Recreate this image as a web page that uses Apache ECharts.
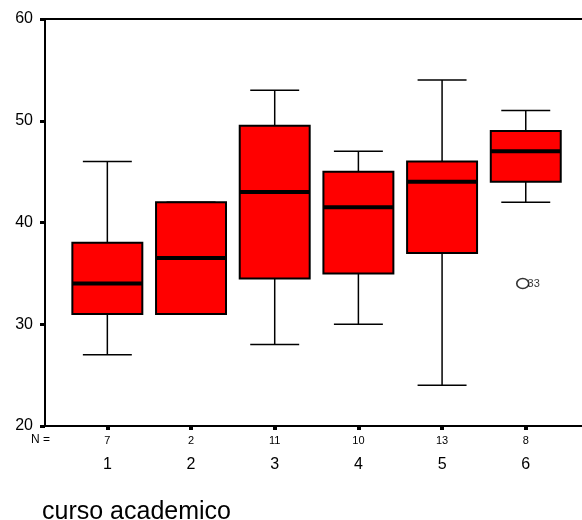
<!DOCTYPE html>
<html>
<head>
<meta charset="utf-8">
<script src="https://cdn.jsdelivr.net/npm/echarts@6/dist/echarts.min.js"></script>
<style>html,body{margin:0;padding:0;background:#fff;}#c{width:582px;height:520px;}</style>
</head>
<body>
<div id="c"></div>
<script>
// ---- data ----
const categories = ['1', '2', '3', '4', '5', '6'];
const counts = [7, 2, 11, 10, 13, 8];
const whiskerLow = [27, 31, 28, 30, 24, 42];
const q1 = [31, 31, 34.5, 35, 37, 44];
const median = [34, 36.5, 43, 41.5, 44, 47];
const q3 = [38, 42, 49.5, 45, 46, 49];
const whiskerHigh = [46, 42, 53, 47, 54, 51];
const outlierCategory = ['6'];
const outlierValue = [34];
const outlierLabel = ['33'];
const yTicks = [20, 30, 40, 50, 60];
const xTitle = 'curso academico';

const FONT = '"Liberation Sans", Arial, sans-serif';
const boxData = categories.map((c, i) => [i, whiskerLow[i], q1[i], median[i], q3[i], whiskerHigh[i]]);
const outData = outlierCategory.map((c, i) => ({ value: [categories.indexOf(c), outlierValue[i]], label: { formatter: outlierLabel[i] } }));

const chart = echarts.init(document.getElementById('c'), null, { renderer: 'canvas' });

function renderBox(params, api) {
  const idx = api.value(0);
  const band = api.size([1, 0])[0];
  const boxW = band * 0.836;
  const capW = band * 0.585;
  const pLow = api.coord([idx, api.value(1)]);
  const pQ1 = api.coord([idx, api.value(2)]);
  const pMed = api.coord([idx, api.value(3)]);
  const pQ3 = api.coord([idx, api.value(4)]);
  const pHigh = api.coord([idx, api.value(5)]);
  const cx = pMed[0];
  const ls = { stroke: '#000', lineWidth: 1.5 };
  return {
    type: 'group',
    children: [
      { type: 'line', shape: { x1: cx, y1: pHigh[1], x2: cx, y2: pQ3[1] }, style: ls },
      { type: 'line', shape: { x1: cx, y1: pQ1[1], x2: cx, y2: pLow[1] }, style: ls },
      { type: 'line', shape: { x1: cx - capW / 2, y1: pHigh[1], x2: cx + capW / 2, y2: pHigh[1] }, style: ls },
      { type: 'line', shape: { x1: cx - capW / 2, y1: pLow[1], x2: cx + capW / 2, y2: pLow[1] }, style: ls },
      { type: 'rect', shape: { x: cx - boxW / 2, y: pQ3[1], width: boxW, height: pQ1[1] - pQ3[1] },
        style: { fill: '#ff0000', stroke: '#000', lineWidth: 2 } },
      { type: 'line', shape: { x1: cx - boxW / 2, y1: pMed[1], x2: cx + boxW / 2, y2: pMed[1] },
        style: { stroke: '#000', lineWidth: 4 } }
    ]
  };
}

chart.setOption({
  animation: false,
  backgroundColor: '#fff',
  title: {
    text: xTitle, left: 42, top: 500, padding: 0,
    textStyle: { fontFamily: FONT, fontSize: 25, fontWeight: 'normal', color: '#000' }
  },
  graphic: [{
    type: 'text', left: 31, top: 434,
    style: { text: 'N =', fontFamily: FONT, fontSize: 12, fill: '#000' }
  }],
  grid: [
    { left: 65.5, right: 14.4, top: 19, bottom: 94, containLabel: false },
    { left: 45, right: 0, top: 19, bottom: 94, containLabel: false }
  ],
  xAxis: [
    {
      type: 'category', gridIndex: 0, data: categories, boundaryGap: true,
      axisLine: { show: true, lineStyle: { color: '#000', width: 2 } },
      axisTick: { show: true, alignWithLabel: true, length: 4, lineStyle: { color: '#000', width: 4 } },
      splitLine: { show: false },
      axisLabel: {
        margin: 8, color: '#000', fontFamily: FONT,
        formatter: (v, i) => '{n|' + counts[i] + '}\n{c|' + v + '}',
        rich: {
          n: { fontSize: 11, lineHeight: 14, fontFamily: FONT, color: '#000' },
          c: { fontSize: 16, lineHeight: 34, fontFamily: FONT, color: '#000' }
        }
      }
    },
    {
      type: 'value', gridIndex: 1, position: 'bottom', min: 0, max: 1,
      axisLine: { show: true, lineStyle: { color: '#000', width: 2 } },
      axisTick: { show: false }, axisLabel: { show: false }, splitLine: { show: false }
    },
    {
      type: 'value', gridIndex: 1, position: 'top', min: 0, max: 1,
      axisLine: { show: true, lineStyle: { color: '#000', width: 2 } },
      axisTick: { show: false }, axisLabel: { show: false }, splitLine: { show: false }
    }
  ],
  yAxis: [
    {
      type: 'value', gridIndex: 0, min: yTicks[0], max: yTicks[yTicks.length - 1], interval: 10,
      offset: 20.5,
      axisLine: { show: true, lineStyle: { color: '#000', width: 2 } },
      axisTick: { show: true, length: 5, lineStyle: { color: '#000', width: 3 } },
      splitLine: { show: false },
      axisLabel: { margin: 12, color: '#000', fontFamily: FONT, fontSize: 16 }
    },
    { type: 'value', gridIndex: 1, min: 0, max: 1, show: false }
  ],
  series: [
    {
      type: 'custom', xAxisIndex: 0, yAxisIndex: 0,
      renderItem: renderBox,
      encode: { x: 0, y: [1, 2, 3, 4, 5] },
      data: boxData, z: 2
    },
    {
      type: 'scatter', xAxisIndex: 0, yAxisIndex: 0,
      symbol: 'circle', symbolSize: [12, 10], symbolOffset: [-3, 0],
      itemStyle: { color: '#fff', borderColor: '#000', borderWidth: 1.5 },
      label: { show: true, position: 'right', distance: -2, color: '#000', fontFamily: FONT, fontSize: 11 },
      data: outData, z: 3
    }
  ]
});
</script>
</body>
</html>
